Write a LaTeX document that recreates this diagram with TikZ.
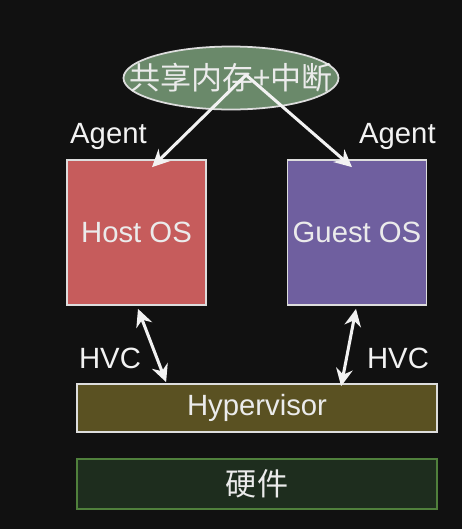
\documentclass[tikz,border=0pt]{standalone}
\usepackage{fontspec}
\setmainfont{Liberation Sans}
\newfontfamily\cjk{Noto Sans CJK SC}
\usepackage{xcolor}
\usetikzlibrary{calc,arrows.meta,positioning,shapes.geometric}

\definecolor{bgblack}{HTML}{111111}
\definecolor{hostred}{HTML}{C65C5C}
\definecolor{guestpurple}{HTML}{6F5F9F}
\definecolor{hypolive}{HTML}{5A5122}
\definecolor{hwgreen}{HTML}{1E2D1E}
\definecolor{hwedge}{HTML}{50803C}
\definecolor{shmgreen}{HTML}{6A896A}
\definecolor{edgegray}{HTML}{DDDDDD}

\tikzset{
	osbox/.style={rectangle, draw=edgegray, line width=1.5pt, minimum width=4.17cm, minimum height=4.35cm, text=white!92!black},
	layerbox/.style={rectangle, line width=1.5pt, minimum width=10.8cm, minimum height=1.44cm, text=white!92!black},
	lbl/.style={text=white!95!black, inner sep=0pt},
	link/.style={white!95!black, line width=2.6pt, >={Stealth[length=0.52cm,width=0.5cm]}},
}

\begin{document}
\begin{tikzpicture}[x=0.03cm, y=-0.03cm, font=\fontsize{25}{30}\selectfont]
\fill[bgblack] (0,0) rectangle (462,529);

% shared memory
\node[ellipse, draw=edgegray, fill=shmgreen, line width=1.5pt, minimum width=6.45cm, minimum height=1.89cm] (shm) at (231,78) {};
\node[text=white!92!black, inner sep=0pt, font=\fontsize{26.5}{30}\cjk] (shmtxt) at (shm.center) {共享内存+中断};
\coordinate (tap) at (246,75);

% the two OSes
\node[osbox, fill=hostred] (host) at (136.5,232.5) {Host OS};
\node[osbox, fill=guestpurple] (guest) at (357,232.5) {Guest OS};
\node[lbl, above=0.27cm of host.north west, anchor=south, xshift=1.27cm] (agl) {Agent};
\node[lbl, above=0.27cm of guest.north east, anchor=south, xshift=-0.9cm] (agr) {Agent};

% layers
\node[layerbox, draw=edgegray, fill=hypolive] (hyp) at (257,408) {Hypervisor};
\node[layerbox, draw=hwedge, fill=hwgreen, minimum height=1.5cm, font=\fontsize{26.5}{30}\cjk] (hw) at (257,484) {硬件};

\node[lbl] (hvcl) at (110,358) {HVC};
\node[lbl] (hvcr) at (398,358) {HVC};

\draw[link, ->] (tap) -- ($(host.north)+(15.5,8)$);
\draw[link, ->] (tap) -- ($(guest.north)+(-5,8)$);
\draw[link, <->] ($(host.south)+(1.5,3)$) -- ($(hyp.north west)+(90,-1)$);
\draw[link, <->] ($(guest.south)+(-1,3)$) -- ($(hyp.north west)+(265,3)$);

\end{tikzpicture}
\end{document}
